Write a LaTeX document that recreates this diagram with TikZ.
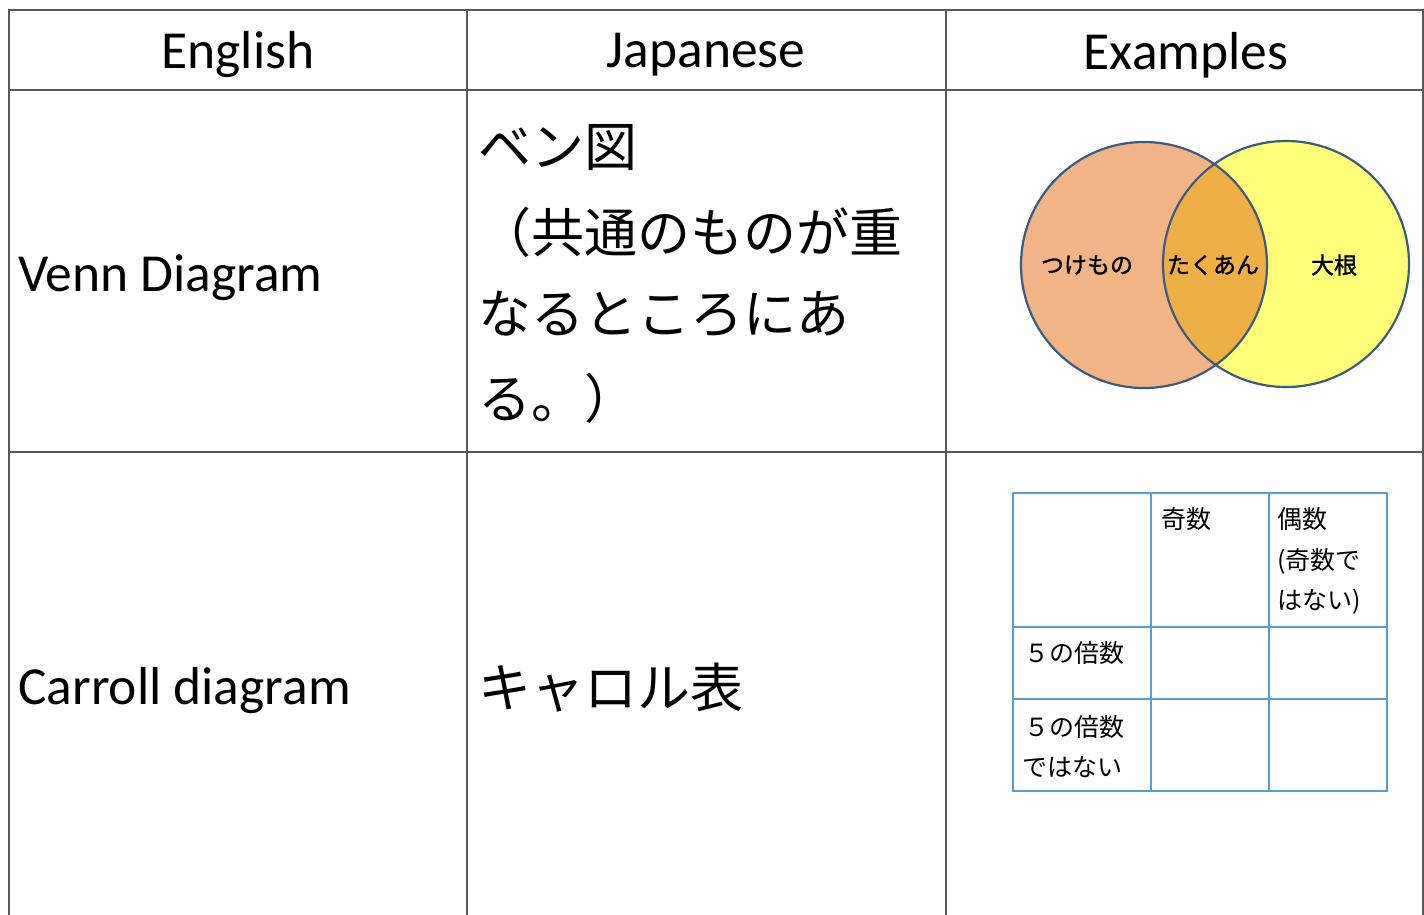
\documentclass[tikz,border=0pt]{standalone}
\usepackage{fontspec}
\setmainfont{Carlito}
\newfontfamily\jp{Noto Sans CJK JP}
\newfontfamily\jpm[FakeBold=1.3]{Noto Sans CJK JP}
\definecolor{gridgray}{HTML}{595959}
\definecolor{cblue}{HTML}{5B9BD5}
\definecolor{vennline}{HTML}{3D5A80}
\definecolor{salmon}{HTML}{F0B486}
\definecolor{lemon}{HTML}{FFFF78}
\definecolor{overlap}{HTML}{EEAF45}
\tikzset{
  tbl/.style={draw=gridgray, line width=2pt},
  ctbl/.style={draw=cblue, line width=2pt},
  head/.style={inner sep=0pt, font=\fontsize{53.5}{60}\selectfont},
  eng/.style={inner sep=0pt, anchor=west, font=\fontsize{53.5}{60}\selectfont},
  jbig/.style={inner sep=0pt, anchor=west, font=\jp\fontsize{53}{60}\selectfont},
  vlab/.style={inner sep=0pt, font=\jpm\fontsize{23}{26}\selectfont},
  clab/.style={inner sep=0pt, anchor=west, font=\jp\fontsize{25}{28}\selectfont},
}
\begin{document}
\begin{tikzpicture}[x=1pt,y=-1pt]
\useasboundingbox (0,0) rectangle (1424,914);
\fill[white] (0,0) rectangle (1424,914);
% main table
\draw[tbl] (9,916) -- (9,10) -- (1423,10) -- (1423,916);
\draw[tbl] (9,90) -- (1423,90);
\draw[tbl] (9,452) -- (1423,452);
\draw[tbl] (467,10) -- (467,916);
\draw[tbl] (946,10) -- (946,916);
% header
\node[head] (hEn) at (238,55) {English};
\node[head] (hJa) at (706,55) {Japanese};
\node[head] (hEx) at (1186,55) {Examples};
% row 1
\node[eng] (venn) at (18,278) {Venn Diagram};
\node[jbig] (j1) at (478,148) {ベン図};
\node[jbig] (j2) at (478,232) {（共通のものが重};
\node[jbig] (j3) at (478,314) {なるところにあ};
\node[jbig] (j4) at (478,398) {る。）};
% venn diagram
\fill[salmon] (1144,265) circle (123);
\fill[lemon] (1286,264) circle (123);
\begin{scope}
  \clip (1144,265) circle (123);
  \fill[overlap] (1286,264) circle (123);
\end{scope}
\draw[vennline, line width=2.2pt] (1144,265) circle (123);
\draw[vennline, line width=2.2pt] (1286,264) circle (123);
\node[vlab] (tsuke) at (1087,265) {つけもの};
\node[vlab] (takuan) at (1213,265) {たくあん};
\node[vlab] (daikon) at (1334,265) {大根};
% row 2
\node[eng] (carroll) at (18,691) {Carroll diagram};
\node[jbig] (kyaroru) at (478,688) {キャロル表};
% carroll table
\draw[ctbl] (1013,493) rectangle (1387,791);
\draw[ctbl] (1151,493) -- (1151,791);
\draw[ctbl] (1269,493) -- (1269,791);
\draw[ctbl] (1013,627) -- (1387,627);
\draw[ctbl] (1013,699) -- (1387,699);
\node[clab] (kisu) at (1161,519) {奇数};
\node[clab] (gusu1) at (1277,519) {偶数};
\node[clab] (gusu2) at (1277,561) {(奇数で};
\node[clab] (gusu3) at (1277,602) {はない)};
\node[clab] (bai1) at (1024,653) {５の倍数};
\node[clab] (bai2) at (1024,727) {５の倍数};
\node[clab] (bai3) at (1022,767) {ではない};
\end{tikzpicture}
\end{document}
